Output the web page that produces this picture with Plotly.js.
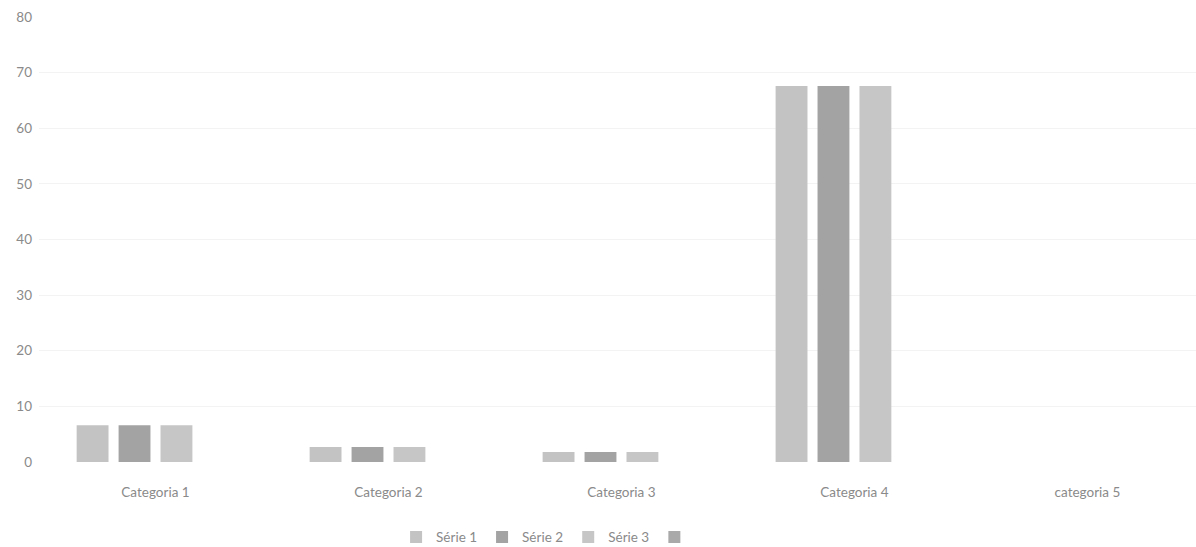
<!DOCTYPE html>
<html>
<head>
<meta charset="utf-8">
<script src="https://cdn.plot.ly/plotly-3.0.1.min.js"></script>
<style>html,body{margin:0;padding:0;background:#fff;}#chart{width:1196px;height:547px;}</style>
</head>
<body>
<div id="chart"></div>
<script>
const categories = ["Categoria 1", "Categoria 2", "Categoria 3", "Categoria 4", "categoria 5"];
const seriesNames = ["Série 1", "Série 2", "Série 3", ""];
const serie1 = [6.6, 2.7, 1.8, 67.6, null];
const serie2 = [6.6, 2.7, 1.8, 67.6, null];
const serie3 = [6.6, 2.7, 1.8, 67.6, null];
const serie4 = [null, null, null, null, null];
const yTicks = [0, 10, 20, 30, 40, 50, 60, 70, 80];

const seriesValues = [serie1, serie2, serie3, serie4];
const colors = ["#c3c3c3", "#a3a3a3", "#c6c6c6", "#a9a9a9"];

const traces = seriesValues.map((vals, i) => ({
  type: "bar",
  x: categories,
  y: vals,
  name: seriesNames[i],
  marker: {color: colors[i]},
  hoverinfo: "x+y+name"
}));

const layout = {
  width: 1196,
  height: 547,
  margin: {l: 39, r: 0, t: 17, b: 85},
  paper_bgcolor: "#ffffff",
  plot_bgcolor: "#ffffff",
  font: {family: "Lato, 'Noto Sans', sans-serif", color: "#8c8c8c", size: 13},
  barmode: "group",
  bargap: 0.28,
  bargroupgap: 0.24,
  xaxis: {
    type: "category",
    range: [-0.5, 4.466],
    showgrid: false,
    zeroline: false,
    showline: false,
    ticks: "",
    ticklabelstandoff: 20,
    tickfont: {size: 13.5, color: "#8a8a8a"}
  },
  yaxis: {
    range: [0, 80],
    tickvals: yTicks,
    ticktext: yTicks.map(String),
    showgrid: true,
    gridcolor: "#f3f3f3",
    gridwidth: 1,
    zeroline: false,
    showline: false,
    ticks: "",
    ticklabelstandoff: 6,
    tickfont: {size: 13.5, color: "#8a8a8a"}
  },
  showlegend: true,
  legend: {
    orientation: "h",
    x: 0.44,
    xanchor: "center",
    yref: "container",
    y: 0.018,
    yanchor: "middle",
    itemwidth: 30,
    font: {size: 13.5, color: "#8a8a8a"},
    traceorder: "normal",
    bgcolor: "rgba(0,0,0,0)"
  }
};

Plotly.newPlot("chart", traces, layout, {displayModeBar: false, staticPlot: true});
</script>
</body>
</html>
